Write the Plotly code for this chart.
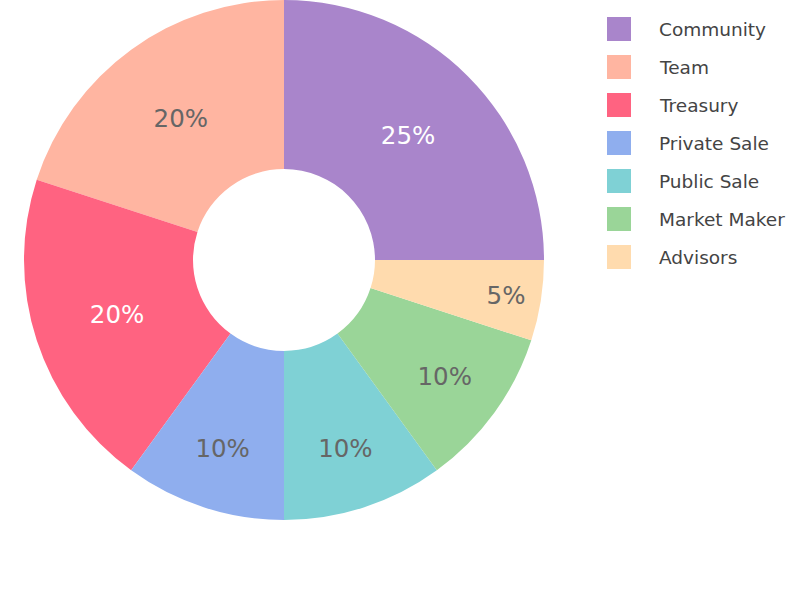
import plotly.graph_objects as go

labels = ["Community", "Team", "Treasury", "Private Sale", "Public Sale", "Market Maker", "Advisors"]
values = [25, 20, 20, 10, 10, 10, 5]
colors = ["#A985CB", "#FFB5A1", "#FF6381", "#8FAEEE", "#7FD1D5", "#9AD598", "#FFDBAE"]
text_colors = ["#FFFFFF", "#666666", "#FFFFFF", "#666666", "#666666", "#666666", "#666666"]

W, H = 800, 600
fig = go.Figure()
fig.add_trace(go.Pie(
    labels=labels,
    values=values,
    hole=0.35,
    sort=False,
    direction="counterclockwise",
    rotation=0,
    marker=dict(colors=colors, line=dict(width=0)),
    textinfo="percent",
    texttemplate="%{percent:.0%}",
    textposition="inside",
    insidetextorientation="horizontal",
    textfont=dict(family="DejaVu Sans", size=24.5, color=text_colors),
    domain=dict(x=[24 / W, 544 / W], y=[80 / H, 1.0]),
    showlegend=False,
))

# custom legend built from labels/colors
legend_top = 29
legend_step = 38
sq = 24
for i, (lab, col) in enumerate(zip(labels, colors)):
    yc = legend_top + i * legend_step
    fig.add_shape(type="rect", xref="paper", yref="paper",
                  x0=607 / W, x1=(607 + sq) / W,
                  y0=1 - (yc + sq / 2) / H, y1=1 - (yc - sq / 2) / H,
                  fillcolor=col, line=dict(width=0))
    fig.add_annotation(xref="paper", yref="paper", x=657 / W, y=1 - (yc + 0.5) / H,
                       text=lab, showarrow=False, xanchor="left", yanchor="middle",
                       font=dict(family="DejaVu Sans", size=18.5, color="#444444"))

fig.update_layout(
    width=W, height=H,
    margin=dict(l=0, r=0, t=0, b=0),
    paper_bgcolor="white",
    plot_bgcolor="white",
    font=dict(family="DejaVu Sans"),
)

fig.write_html("out.html")
